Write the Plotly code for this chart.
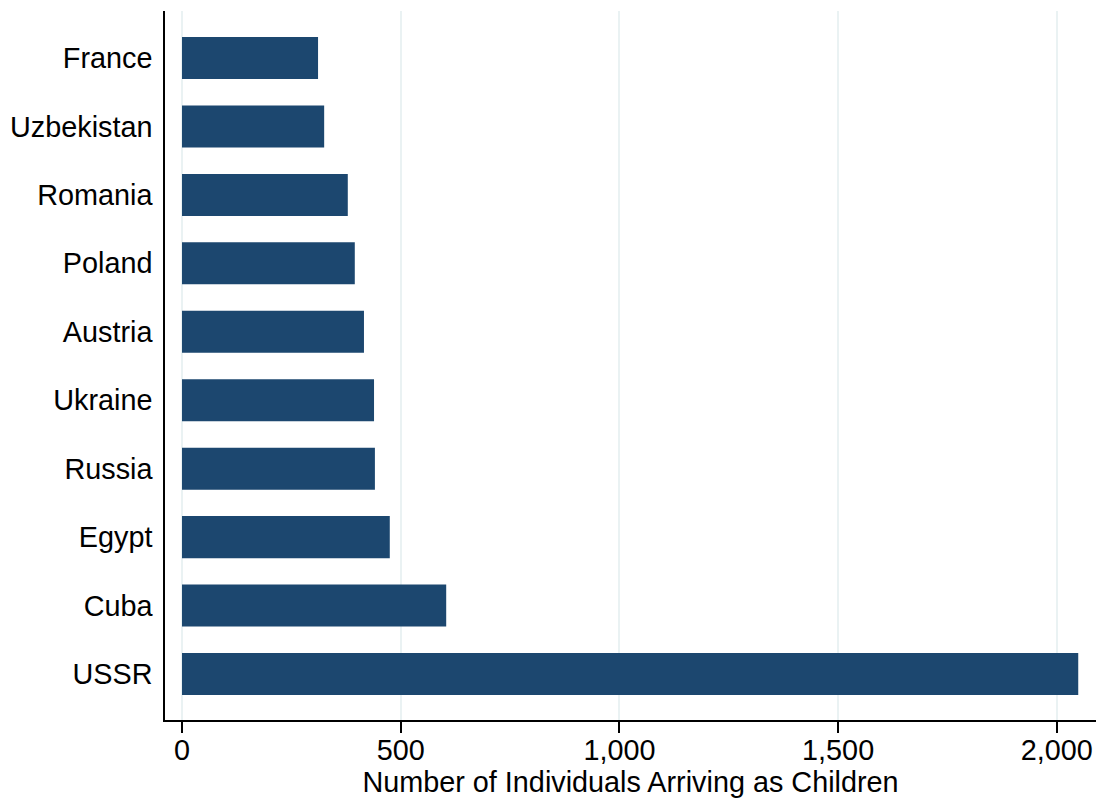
import plotly.graph_objects as go

countries = ["France", "Uzbekistan", "Romania", "Poland", "Austria",
             "Ukraine", "Russia", "Egypt", "Cuba", "USSR"]
values = [311, 325, 379, 395, 416, 439, 441, 475, 604, 2049]
x_ticks = [0, 500, 1000, 1500, 2000]
x_ticklabels = ["0", "500", "1,000", "1,500", "2,000"]

order_bottom_up = countries[::-1]

fig = go.Figure(go.Bar(
    x=values, y=countries, orientation="h",
    marker=dict(color="#1c476f", line=dict(width=0)),
))

font = dict(family="Liberation Sans, Arial, sans-serif", size=28.8, color="#000000")

fig.update_layout(
    width=1104, height=804,
    margin=dict(l=165, r=8, t=11, b=84),
    paper_bgcolor="white", plot_bgcolor="white",
    font=font, bargap=0.386, showlegend=False,
    xaxis=dict(
        range=[-38.9, 2089.6], tickvals=x_ticks, ticktext=x_ticklabels,
        showgrid=True, gridcolor="#eaf2f3", gridwidth=2,
        zeroline=False, showline=True, linecolor="#000000", linewidth=1.5,
        ticks="outside", ticklen=11, tickwidth=1.5, tickcolor="#000000",
        ticklabelstandoff=-7, automargin=False,
        title=dict(text="Number of Individuals Arriving as Children", standoff=2,
                   font=font),
        tickfont=font,
    ),
    yaxis=dict(
        type="category", categoryorder="array", categoryarray=order_bottom_up,
        range=[-0.672, 9.687], showgrid=False, zeroline=False,
        showline=True, linecolor="#000000", linewidth=1.5,
        ticks="", ticklabelstandoff=5, tickfont=font, automargin=False,
    ),
)

fig.write_html("out.html")
